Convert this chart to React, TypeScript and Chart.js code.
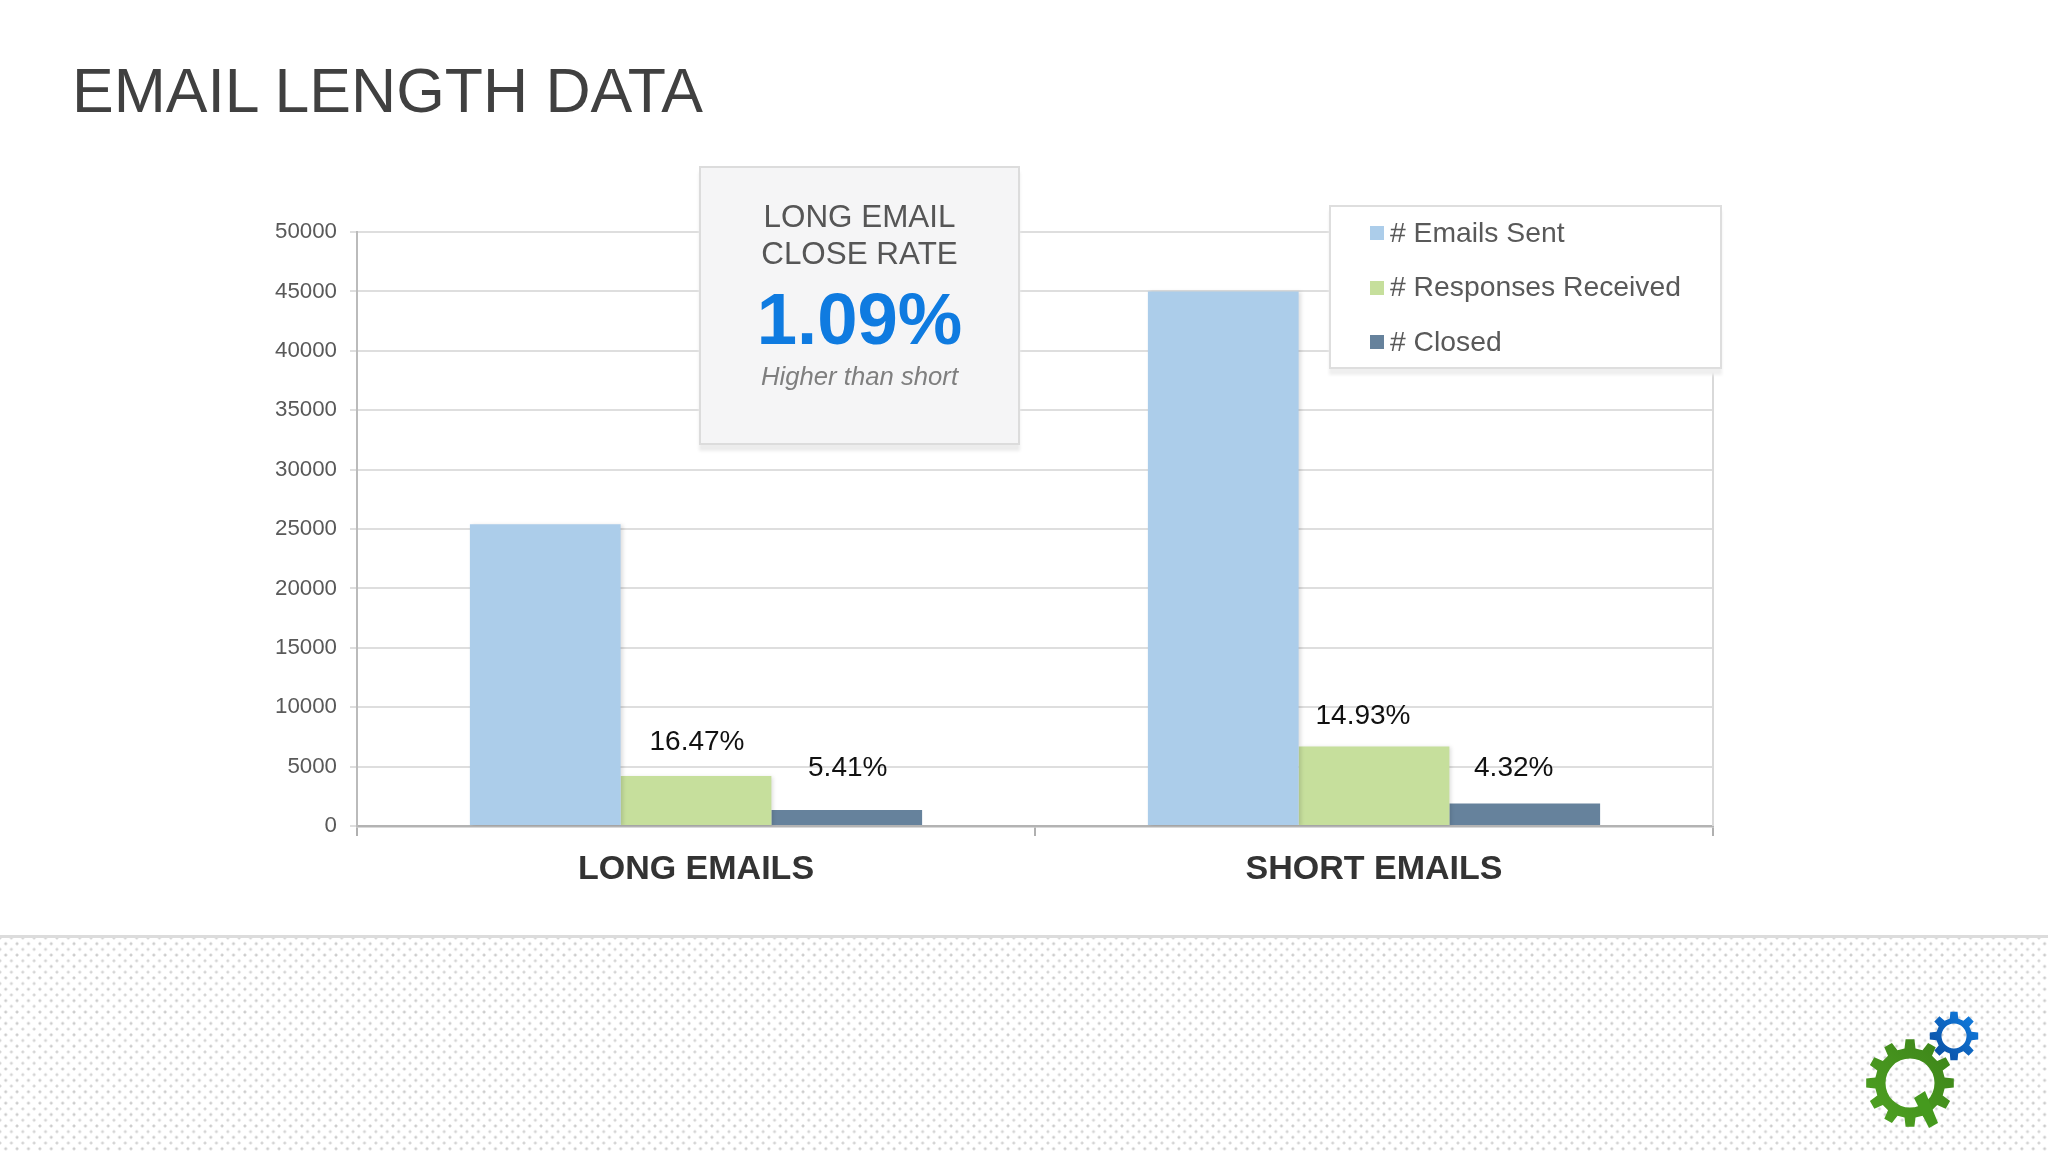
import React, { useRef, useEffect } from 'react';
import { Chart, registerables } from 'chart.js';

Chart.register(...registerables);

const categories = ['LONG EMAILS', 'SHORT EMAILS'];
const seriesNames = ['# Emails Sent', '# Responses Received', '# Closed'];
const emailsSent = [25400, 45000];
const responsesReceived = [4200, 6700];
const closed = [1350, 1900];
const responseRates = ['16.47%', '14.93%'];
const closeRates = ['5.41%', '4.32%'];
const seriesColors = ['#accdea', '#c6df9c', '#66829c'];
const FONT = '"Liberation Sans", Arial, sans-serif';

// little percent captions above the green and dark bars
const barCaptions: any = {
  id: 'barCaptions',
  afterDatasetsDraw(chart: any) {
    const { ctx } = chart;
    const shift = [1, -11];
    const lift = [[26, 22], [34, 27]];
    [responseRates, closeRates].forEach((texts, s) => {
      const meta = chart.getDatasetMeta(s + 1);
      texts.forEach((text, i) => {
        const bar = meta.data[i];
        ctx.save();
        ctx.font = `28px ${FONT}`;
        ctx.fillStyle = '#111111';
        ctx.textAlign = 'center';
        ctx.fillText(text, bar.x + shift[i], bar.y - lift[s][i]);
        ctx.restore();
      });
    });
  },
};

const barShadow: any = {
  id: 'barShadow',
  beforeDatasetDraw(chart: any, args: any) {
    if (args.index === 2) return;
    chart.ctx.save();
    chart.ctx.shadowColor = 'rgba(0,0,0,0.13)';
    chart.ctx.shadowBlur = 4;
    chart.ctx.shadowOffsetX = 2;
    chart.ctx.shadowOffsetY = 1;
  },
  afterDatasetDraw(chart: any, args: any) {
    if (args.index === 2) return;
    chart.ctx.restore();
  },
};

const rightEdge: any = {
  id: 'rightEdge',
  beforeDatasetsDraw(chart: any) {
    const { ctx, chartArea } = chart;
    ctx.save();
    ctx.strokeStyle = '#d9d9d9';
    ctx.lineWidth = 2;
    ctx.beginPath();
    ctx.moveTo(chartArea.right, chartArea.top);
    ctx.lineTo(chartArea.right, chartArea.bottom);
    ctx.stroke();
    ctx.restore();
  },
};

function gearPath(cx: number, cy: number, outer: number, root: number, hole: number, teeth: number) {
  let d = '';
  const step = (Math.PI * 2) / teeth;
  for (let i = 0; i < teeth; i++) {
    const a = i * step - Math.PI / 2;
    const pts = [
      [root, a - step * 0.3],
      [outer, a - step * 0.19],
      [outer, a + step * 0.19],
      [root, a + step * 0.3],
    ];
    pts.forEach(([r, t], j) => {
      d += `${i === 0 && j === 0 ? 'M' : 'L'}${(cx + r * Math.cos(t)).toFixed(1)} ${(cy + r * Math.sin(t)).toFixed(1)}`;
    });
  }
  d += `Z M${cx - hole} ${cy}a${hole} ${hole} 0 1 0 ${hole * 2} 0a${hole} ${hole} 0 1 0 ${-hole * 2} 0Z`;
  return d;
}

const Logo = () => (
  <svg width={248} height={172} viewBox="1800 980 248 172" style={{ position: 'absolute', left: 1800, top: 980 }}>
    <defs>
      <linearGradient id="blueGear" x1="0" y1="1" x2="1" y2="0">
        <stop offset="0" stopColor="#0b4a9c" />
        <stop offset="1" stopColor="#1080e4" />
      </linearGradient>
      <linearGradient id="greenGear" x1="0" y1="1" x2="1" y2="0">
        <stop offset="0" stopColor="#4fa322" />
        <stop offset="1" stopColor="#3c8319" />
      </linearGradient>
    </defs>
    <path d={gearPath(1910, 1083, 44, 35, 24.5, 12)} fill="url(#greenGear)" fillRule="evenodd" />
    <path d="M1914 1098 L1925 1091 L1938 1123 L1929 1128 Z" fill="#459a1e" />
    <path d={gearPath(1954, 1036, 24.5, 18, 12.5, 8)} fill="url(#blueGear)" fillRule="evenodd" />
  </svg>
);

const App: React.FC = () => {
  const canvasRef = useRef<HTMLCanvasElement>(null);

  useEffect(() => {
    document.body.style.margin = '0';
    if (!canvasRef.current) return;
    const chart = new Chart(canvasRef.current, {
      type: 'bar',
      data: {
        labels: categories,
        datasets: [emailsSent, responsesReceived, closed].map((values, i) => ({
          label: seriesNames[i],
          data: values,
          backgroundColor: seriesColors[i],
          borderWidth: 0,
          barPercentage: 1,
          categoryPercentage: 0.667,
        })),
      },
      options: {
        responsive: false,
        animation: false,
        devicePixelRatio: 1,
        layout: { padding: { left: 0, right: 335, top: 232, bottom: 0 } },
        plugins: { legend: { display: false }, title: { display: false }, tooltip: { enabled: false } },
        scales: {
          x: {
            afterFit: (s: any) => { s.height = 326; },
            grid: { offset: true, drawOnChartArea: false, color: '#b0b0b0', lineWidth: 2, tickLength: 10 },
            border: { color: '#b3b3b3', width: 2.5 },
            ticks: { color: '#333333', padding: 13, font: { family: FONT, size: 34, weight: 'bold' } },
          },
          y: {
            min: 0,
            max: 50000,
            afterFit: (s: any) => { s.width = 357; },
            grid: { color: '#dedede', lineWidth: 2, tickLength: 7 },
            border: { color: '#bbbbbb', width: 2 },
            ticks: {
              stepSize: 5000,
              color: '#595959',
              padding: 13,
              font: { family: FONT, size: 22.3 },
              callback: (v: any) => String(v),
            },
          },
        },
      },
      plugins: [rightEdge, barShadow, barCaptions],
    } as any);
    return () => {
      chart.destroy();
    };
  }, []);

  const centerLine = (top: number, size: number, color: string, text: string, extra: any = {}) => (
    <div style={{ position: 'absolute', left: 0, width: 321, top, textAlign: 'center', fontSize: size, lineHeight: 1, color, ...extra }}>{text}</div>
  );

  return (
    <div style={{ position: 'relative', width: 2048, height: 1152, overflow: 'hidden', background: '#fff', fontFamily: FONT }}>
      <div style={{
        position: 'absolute', left: 0, right: 0, top: 935, bottom: 0, borderTop: '3px solid #dcdcdc',
        backgroundImage: 'radial-gradient(circle, #cccccc 1.1px, transparent 1.8px), radial-gradient(circle, #d4d4d4 1.1px, transparent 1.8px)',
        backgroundSize: '11.4px 11.4px',
        backgroundPosition: '0 0, 5.7px 5.7px',
      }} />
      <canvas ref={canvasRef} width={2048} height={1152} style={{ position: 'absolute', left: 0, top: 0, display: 'block' }} />
      <div style={{ position: 'absolute', left: 72, top: 55, fontSize: 62.5, lineHeight: 1.15, color: '#404040' }}>EMAIL LENGTH DATA</div>

      <div style={{ position: 'absolute', left: 699, top: 166, width: 321, height: 279, boxSizing: 'border-box', background: '#f5f5f6', border: '2px solid #dcdcdc', boxShadow: '0 6px 3px #ececec' }}>
        <div style={{ position: 'relative', left: -2, top: -168 }}>
          {centerLine(201, 31.4, '#565656', 'LONG EMAIL')}
          {centerLine(238, 31.4, '#565656', 'CLOSE RATE')}
          {centerLine(283, 72.5, '#0f7be0', '1.09%', { fontWeight: 'bold' })}
          {centerLine(364, 25.7, '#7f7f7f', 'Higher than short', { fontStyle: 'italic' })}
        </div>
      </div>

      <div style={{ position: 'absolute', left: 1329, top: 205, width: 393, height: 164, boxSizing: 'border-box', background: '#fff', border: '2px solid #dedede', boxShadow: '0 6px 3px #efefef' }}>
        {seriesNames.map((name, i) => (
          <div key={name} style={{ position: 'absolute', left: 39, top: 9 + i * 54.5, height: 32, display: 'flex', alignItems: 'center', fontSize: 28.3, color: '#595959', whiteSpace: 'nowrap' }}>
            <span style={{ width: 14, height: 14, background: seriesColors[i], marginRight: 6, position: 'relative', top: 1 }} />
            {name}
          </div>
        ))}
      </div>

      <Logo />
    </div>
  );
};

export default App;
